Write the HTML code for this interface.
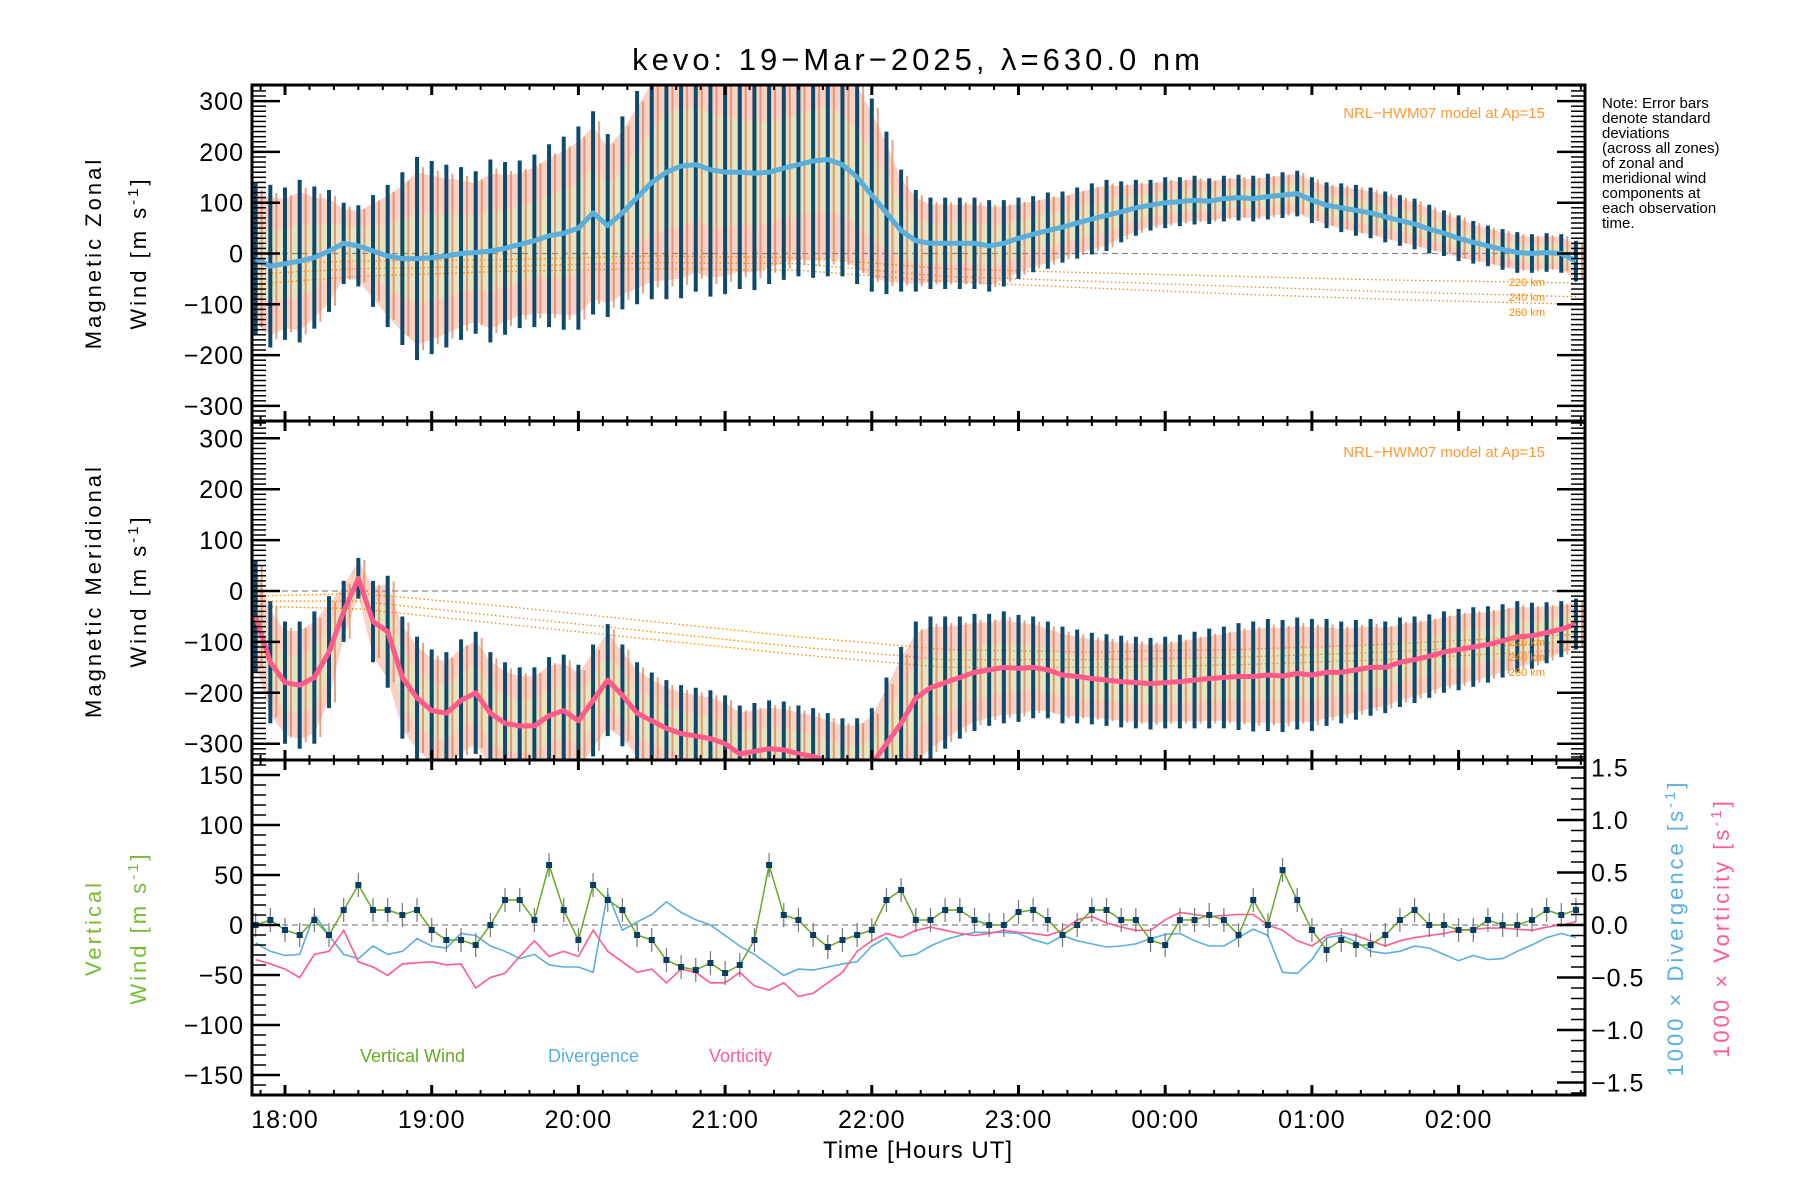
<!DOCTYPE html>
<html><head><meta charset="utf-8"><style>
html,body{margin:0;padding:0;background:#fff;}
svg{display:block;font-family:"Liberation Sans",sans-serif;}
</style></head><body>
<svg id="chart" width="1800" height="1200" viewBox="0 0 1800 1200" xmlns="http://www.w3.org/2000/svg">
<defs>
<clipPath id="c1"><rect x="252" y="85" width="1333" height="336"/></clipPath>
<clipPath id="c2"><rect x="252" y="421" width="1333" height="339"/></clipPath>
<clipPath id="c3"><rect x="252" y="760" width="1333" height="335"/></clipPath>
</defs>
<text x="918" y="70" font-size="31" text-anchor="middle" letter-spacing="4">kevo: 19−Mar−2025, λ=630.0 nm</text>
<g id="p1" clip-path="url(#c1)"></g>
<g id="p2" clip-path="url(#c2)"></g>
<g id="p3" clip-path="url(#c3)"></g>
<g id="axes"></g>
<g font-size="22" letter-spacing="3">
<text transform="translate(101,253) rotate(-90)" text-anchor="middle">Magnetic Zonal</text>
<text transform="translate(146,253) rotate(-90)" text-anchor="middle">Wind [m s<tspan dy="-8" font-size="15">-1</tspan><tspan dy="8">]</tspan></text>
<text transform="translate(101,591) rotate(-90)" text-anchor="middle">Magnetic Meridional</text>
<text transform="translate(146,591) rotate(-90)" text-anchor="middle">Wind [m s<tspan dy="-8" font-size="15">-1</tspan><tspan dy="8">]</tspan></text>
<text transform="translate(101,928) rotate(-90)" text-anchor="middle" fill="#77bb33">Vertical</text>
<text transform="translate(146,928) rotate(-90)" text-anchor="middle" fill="#77bb33">Wind [m s<tspan dy="-8" font-size="15">-1</tspan><tspan dy="8">]</tspan></text>
<text transform="translate(1683,928) rotate(-90)" text-anchor="middle" fill="#5aaee0">1000 × Divergence [s<tspan dy="-8" font-size="15">-1</tspan><tspan dy="8">]</tspan></text>
<text transform="translate(1729,928) rotate(-90)" text-anchor="middle" fill="#ff5b8e">1000 × Vorticity [s<tspan dy="-8" font-size="15">-1</tspan><tspan dy="8">]</tspan></text>
</g>
<text x="918" y="1158" font-size="24" text-anchor="middle" letter-spacing="1">Time [Hours UT]</text>
<g font-size="15">
<text x="1602" y="108">Note: Error bars</text><text x="1602" y="123">denote standard</text><text x="1602" y="138">deviations</text><text x="1602" y="153">(across all zones)</text><text x="1602" y="168">of zonal and</text><text x="1602" y="183">meridional wind</text><text x="1602" y="198">components at</text><text x="1602" y="213">each observation</text><text x="1602" y="228">time.</text>
</g>
<text x="1545" y="118" font-size="15" fill="#ff9933" text-anchor="end">NRL−HWM07 model at Ap=15</text>
<text x="1545" y="457" font-size="15" fill="#ff9933" text-anchor="end">NRL−HWM07 model at Ap=15</text>
<g font-size="11" fill="#ff8800" text-anchor="end">
<text x="1545" y="286">220 km</text><text x="1545" y="301">240 km</text><text x="1545" y="316">260 km</text>
<text x="1545" y="646">220 km</text><text x="1545" y="661">240 km</text><text x="1545" y="676">260 km</text>
</g>
<g font-size="18">
<text x="360" y="1062" fill="#66aa22">Vertical Wind</text>
<text x="548" y="1062" fill="#5aaee0">Divergence</text>
<text x="709" y="1062" fill="#ff5b8e">Vorticity</text>
</g>
</svg>
<script>
const times=[17.8,17.9,18.0,18.1,18.2,18.3,18.4,18.5,18.6,18.7,18.8,18.9,19.0,19.1,19.2,19.3,19.4,19.5,19.6,19.7,19.8,19.9,20.0,20.1,20.2,20.3,20.4,20.5,20.6,20.7,20.8,20.9,21.0,21.1,21.2,21.3,21.4,21.5,21.6,21.7,21.8,21.9,22.0,22.1,22.2,22.3,22.4,22.5,22.6,22.7,22.8,22.9,23.0,23.1,23.2,23.3,23.4,23.5,23.6,23.7,23.8,23.9,24.0,24.1,24.2,24.3,24.4,24.5,24.6,24.7,24.8,24.9,25.0,25.1,25.2,25.3,25.4,25.5,25.6,25.7,25.8,25.9,26.0,26.1,26.2,26.3,26.4,26.5,26.6,26.7,26.8];
const zonal=[-10,-25,-20,-15,-8,5,20,15,5,-5,-10,-10,-8,-5,0,2,5,10,18,25,35,40,50,80,55,80,110,140,160,172,175,165,160,160,158,160,168,175,182,185,175,150,115,80,45,25,20,20,20,20,15,20,30,38,45,52,60,68,75,82,90,95,100,102,105,103,108,110,108,112,115,118,105,95,90,85,80,72,65,58,48,40,30,22,15,8,2,0,2,0,-15];
const zonalSigma=[150,160,150,160,140,120,80,80,110,140,170,200,190,180,170,160,180,170,165,170,180,190,200,200,180,190,210,230,250,260,250,250,240,230,230,220,220,220,230,230,220,210,190,160,120,100,90,90,90,90,90,85,80,75,75,70,70,70,70,60,55,50,50,48,48,45,45,45,45,45,45,45,45,45,48,50,50,50,50,50,48,45,45,42,40,40,40,38,38,38,40];
const merid=[-50,-140,-180,-185,-170,-120,-40,25,-60,-80,-170,-210,-235,-240,-215,-200,-240,-260,-265,-265,-245,-235,-255,-215,-175,-205,-240,-255,-270,-280,-285,-290,-300,-320,-315,-310,-312,-320,-325,-335,-345,-350,-340,-300,-260,-210,-190,-180,-170,-160,-155,-150,-152,-150,-155,-165,-168,-172,-175,-178,-180,-182,-180,-178,-175,-172,-170,-168,-168,-165,-167,-162,-165,-160,-160,-155,-150,-150,-140,-135,-128,-120,-115,-110,-105,-98,-90,-88,-82,-75,-65];
const meridSigma=[110,120,120,125,130,110,60,40,80,110,120,120,120,120,120,120,120,120,115,115,115,110,110,110,110,100,100,95,95,95,95,95,95,95,95,95,95,95,95,95,95,100,110,130,150,150,140,130,120,115,110,110,105,100,95,95,92,90,90,90,90,90,90,92,95,98,100,105,108,110,110,110,110,105,100,98,95,90,88,85,82,80,80,78,75,72,70,65,60,55,50];
const vertical=[0,5,-5,-10,5,-10,15,40,15,15,10,15,-5,-15,-15,-20,0,25,25,5,60,15,-15,40,25,15,-10,-15,-35,-42,-45,-38,-48,-40,-15,60,10,5,-10,-22,-15,-10,-5,25,35,5,5,15,15,5,0,0,13,15,5,-10,0,15,15,5,5,-15,-20,5,5,10,5,-10,25,0,55,25,-5,-25,-15,-20,-20,-10,5,15,0,0,-5,-5,5,0,0,5,15,10,15];
const divergence=[-0.17,-0.25,-0.29,-0.28,0.1,-0.1,-0.28,-0.32,-0.2,-0.28,-0.25,-0.13,-0.2,-0.22,-0.08,-0.1,-0.2,-0.25,-0.32,-0.28,-0.38,-0.4,-0.4,-0.45,0.3,-0.05,0.03,0.1,0.22,0.12,0.05,0.0,-0.1,-0.2,-0.28,-0.38,-0.48,-0.42,-0.43,-0.4,-0.37,-0.35,-0.2,-0.12,-0.3,-0.28,-0.2,-0.14,-0.1,-0.07,-0.07,-0.07,-0.08,-0.14,-0.18,-0.1,-0.15,-0.18,-0.21,-0.2,-0.18,-0.13,-0.09,-0.08,-0.15,-0.2,-0.2,-0.12,-0.04,-0.1,-0.45,-0.46,-0.33,-0.12,-0.1,-0.16,-0.25,-0.27,-0.25,-0.2,-0.22,-0.28,-0.34,-0.29,-0.33,-0.32,-0.25,-0.19,-0.12,-0.08,-0.12];
const vorticity=[-0.33,-0.37,-0.42,-0.5,-0.28,-0.25,-0.05,-0.35,-0.4,-0.48,-0.37,-0.36,-0.35,-0.38,-0.37,-0.6,-0.5,-0.46,-0.3,-0.15,-0.3,-0.25,-0.3,-0.05,-0.25,-0.35,-0.45,-0.42,-0.55,-0.42,-0.45,-0.55,-0.55,-0.45,-0.58,-0.62,-0.55,-0.68,-0.65,-0.55,-0.45,-0.25,-0.15,-0.08,-0.12,-0.05,-0.02,-0.05,-0.08,-0.1,-0.08,-0.05,-0.07,-0.08,-0.1,-0.05,0.05,0.08,0.02,-0.02,-0.05,-0.05,0.05,0.12,0.1,0.08,0.09,0.1,0.1,0.0,-0.05,-0.15,-0.2,-0.1,-0.07,-0.1,-0.15,-0.2,-0.15,-0.12,-0.1,-0.08,-0.05,-0.04,-0.03,-0.03,-0.04,-0.05,-0.02,0.0,0.03];
const modelTimes=[17.8,18.5,19.5,20.5,21.5,22.5,23.5,24.5,25.5,26.8];
const zonal220=[-20,-15,-12,-5,-8,-30,-38,-45,-52,-58];
const zonal240=[-40,-30,-25,-18,-20,-45,-55,-65,-75,-85];
const zonal260=[-60,-45,-35,-30,-33,-55,-68,-80,-90,-100];
const merid220=[-10,-5,-30,-60,-90,-115,-120,-115,-105,-85];
const merid240=[-20,-20,-50,-80,-110,-135,-135,-130,-120,-100];
const merid260=[-30,-35,-65,-95,-125,-150,-150,-145,-135,-115];
const hourTicks=[18,19,20,21,22,23,24,25,26];
const hourLabels=["18:00","19:00","20:00","21:00","22:00","23:00","00:00","01:00","02:00"];
const windTicks=[-300,-200,-100,0,100,200,300];
const vertTicks=[-150,-100,-50,0,50,100,150];
const rightTicks=[-1.5,-1.0,-0.5,0.0,0.5,1.0,1.5];

const NS="http://www.w3.org/2000/svg";
const L=252,R=1585;
const x=h=>285+(h-18)*146.7;
const y1=v=>253.5-v*0.508;
const y2=v=>591-v*0.509;
const y3=v=>925-v*1.0;
const yr=v=>925-v*105;
function mk(tag,parent,attrs){const e=document.createElementNS(NS,tag);for(const k in attrs)e.setAttribute(k,attrs[k]);parent.appendChild(e);return e;}
function pathOf(ts,vs,yf){return ts.map((t,i)=>(i?"L":"M")+x(t).toFixed(1)+" "+yf(vs[i]).toFixed(1)).join(" ");}

function windPanel(g,mean,sig,yf,lineColor,m1,m2,m3,name){
  let up=times.map((t,i)=>x(t).toFixed(1)+","+yf(mean[i]+sig[i]*0.85).toFixed(1));
  let dn=times.map((t,i)=>x(t).toFixed(1)+","+yf(mean[i]-sig[i]*0.85).toFixed(1)).reverse();
  const band=mk("polygon",g,{points:up.concat(dn).join(" "),fill:"#f9c2b0","fill-opacity":"0.75"});
  
  
  let up2=times.map((t,i)=>x(t).toFixed(1)+","+yf(mean[i]+sig[i]*0.45).toFixed(1));
  let dn2=times.map((t,i)=>x(t).toFixed(1)+","+yf(mean[i]-sig[i]*0.45).toFixed(1)).reverse();
  const band2=mk("polygon",g,{points:up2.concat(dn2).join(" "),fill:"#d8f0c0","fill-opacity":"0.6"});
  
  
  mk("line",g,{x1:L,x2:R,y1:yf(0),y2:yf(0),stroke:"#888","stroke-dasharray":"6,4","stroke-width":1.3});
  [m1,m2,m3].forEach((m,k)=>{
    const p=mk("path",g,{d:pathOf(modelTimes,m,yf),fill:"none",stroke:"#ff8800","stroke-width":1.3,"stroke-dasharray":"1.5,2.5"});
    
    
  });
  times.forEach((t,i)=>{
    const b=mk("line",g,{x1:x(t),x2:x(t),y1:yf(mean[i]-sig[i]),y2:yf(mean[i]+sig[i]),stroke:"#0e4a6e","stroke-width":4});
    
    
    const b2=mk("line",g,{x1:x(t)+6,x2:x(t)+6,y1:yf(mean[i]-sig[i]*0.9),y2:yf(mean[i]+sig[i]*0.9),stroke:"#e07a50","stroke-width":2,"stroke-opacity":"0.7"});
    
    
  });
  const ln=mk("path",g,{d:pathOf(times,mean,yf),fill:"none",stroke:lineColor,"stroke-width":5,"stroke-linejoin":"round"});
  
  
}
windPanel(document.getElementById("p1"),zonal,zonalSigma,y1,"#5aaedc",zonal220,zonal240,zonal260,"zonal");
windPanel(document.getElementById("p2"),merid,meridSigma,y2,"#ff5a8a",merid220,merid240,merid260,"meridional");

const g3=document.getElementById("p3");
mk("line",g3,{x1:L,x2:R,y1:y3(0),y2:y3(0),stroke:"#888","stroke-dasharray":"6,4","stroke-width":1.3});
const dv=mk("path",g3,{d:pathOf(times,divergence,yr),fill:"none",stroke:"#5aaee0","stroke-width":1.6});


const vo=mk("path",g3,{d:pathOf(times,vorticity,yr),fill:"none",stroke:"#ff5b8e","stroke-width":1.6});


times.forEach((t,i)=>{
  const e=mk("line",g3,{x1:x(t),x2:x(t),y1:y3(vertical[i]-12),y2:y3(vertical[i]+12),stroke:"#777","stroke-width":1.2});
  
  
});
const vw=mk("path",g3,{d:pathOf(times,vertical,y3),fill:"none",stroke:"#66aa22","stroke-width":1.5});


times.forEach((t,i)=>{
  const s=mk("rect",g3,{x:x(t)-3,y:y3(vertical[i])-3,width:6,height:6,fill:"#0a3d62"});
  
  
});

const ax=document.getElementById("axes");
const panels=[[85,421,y1,windTicks,10],[421,760,y2,windTicks,10],[760,1095,y3,vertTicks,10]];
panels.forEach(([top,bot,yf,ticks,minor],pi)=>{
  mk("rect",ax,{x:L,y:top,width:R-L,height:bot-top,fill:"none",stroke:"#000","stroke-width":3});
  for(let k=0;k<=60;k++){
    const hh=17+k/6+0.0; const h2=Math.round(hh*6)/6;
    if(x(h2)<L+1||x(h2)>R-1) continue;
    const major=k%6===0;
    const len=major?10:5;
    mk("line",ax,{x1:x(h2),x2:x(h2),y1:bot,y2:bot-len,stroke:"#000","stroke-width":major?3:2});
    mk("line",ax,{x1:x(h2),x2:x(h2),y1:top,y2:top+len,stroke:"#000","stroke-width":major?3:2});
  }
  const lo=pi==2?-165:-330, hi=pi==2?165:331;
  for(let v=Math.ceil(lo/minor)*minor;v<=hi;v+=minor){
    const isMaj=ticks.includes(v);
    const len=isMaj?28:14;
    mk("line",ax,{x1:L,x2:L+len,y1:yf(v),y2:yf(v),stroke:"#000","stroke-width":isMaj?2.5:1.5});
    if(pi<2) mk("line",ax,{x1:R,x2:R-len,y1:yf(v),y2:yf(v),stroke:"#000","stroke-width":isMaj?2.5:1.5});
  }
  ticks.forEach(v=>{
    const t=mk("text",ax,{x:L-8,y:yf(v)+9,"font-size":25,"text-anchor":"end","letter-spacing":1});
    t.textContent=(v<0?"−":"")+Math.abs(v);
    
    
  });
});
for(let k=-16;k<=16;k++){
  const r=k/10, isMaj=k%5===0;
  mk("line",ax,{x1:R,x2:R-(isMaj?28:14),y1:yr(r),y2:yr(r),stroke:"#000","stroke-width":isMaj?2.5:1.5});
}
rightTicks.forEach(v=>{
  const t=mk("text",ax,{x:R+6,y:yr(v)+9,"font-size":25,"letter-spacing":1});
  t.textContent=(v<0?"−":"")+Math.abs(v).toFixed(1);
  
  
});
hourTicks.forEach((h,i)=>{
  const t=mk("text",ax,{x:x(h),y:1128,"font-size":25,"text-anchor":"middle","letter-spacing":1});
  t.textContent=hourLabels[i];
  
  
});
</script>
</body></html>
